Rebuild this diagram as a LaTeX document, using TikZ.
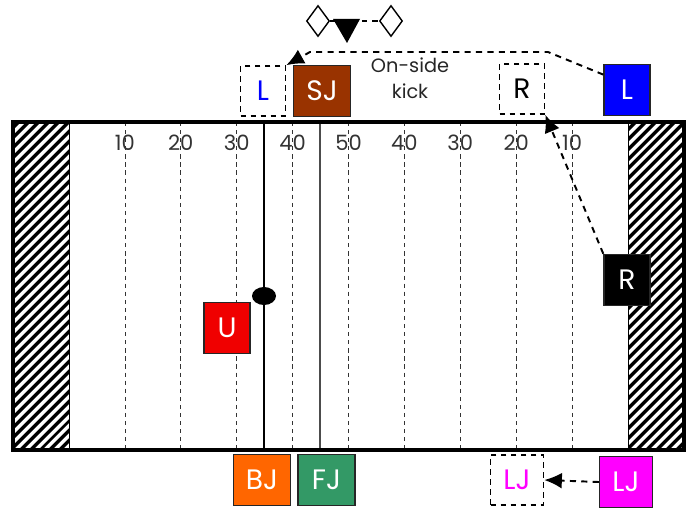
\documentclass[tikz,border=0pt]{standalone}
\usepackage{fontspec}
\setmainfont{Poppins}
\usepackage{tikz}
\usetikzlibrary{positioning}
\usetikzlibrary{shapes.geometric}
\usetikzlibrary{patterns.meta}
\usetikzlibrary{arrows.meta}
\definecolor{sjbrown}{HTML}{993300}
\definecolor{ured}{HTML}{F00000}
\definecolor{bjorange}{HTML}{FF6600}
\definecolor{fjgreen}{HTML}{339966}
\definecolor{ljpink}{HTML}{FF00FF}
\definecolor{lblue}{HTML}{0000FF}
\tikzset{
    official/.style={ % Filled box of an official
        draw=black!85,
        thick,
        text=white,
        inner sep=0pt,
        minimum width=0.92cm,
        minimum height=1.02cm,
        font=\fontsize{16}{16}\selectfont
    },
    wide/.style={minimum width=1.14cm},
    ghost/.style={ % Where the official stood before
        draw,
        line width=0.9pt,
        dash pattern=on 3.2pt off 2.5pt,
        inner sep=0pt,
        minimum width=0.9cm,
        minimum height=1.0cm,
        font=\fontsize{16}{16}\selectfont
    },
    endzone/.style={
        draw,
        pattern={Lines[angle=45,distance=4pt,line width=2pt]}
    },
    yardline/.style={draw=black!80, dash pattern=on 2.4pt off 2.2pt},
    yardnum/.style={text=black!80, inner sep=0pt, font=\fontsize{12}{12}\selectfont},
    scrimmage/.style={draw, line width=1.1pt},
    field/.style={draw, line width=2.8pt},
    ball/.style={ellipse, fill, inner sep=0pt, minimum width=0.48cm, minimum height=0.36cm},
    flag/.style={diamond, draw, thick, fill=white, inner sep=0pt, minimum width=0.46cm, minimum height=0.62cm},
    move/.style={ % Dashed path of an official
        draw,
        line width=1.1pt,
        dash pattern=on 3.5pt off 3pt,
        -{Latex[length=10pt,width=9pt]}
    }
}
\begin{document}
\begin{tikzpicture}[x=0.02cm, y=-0.02cm]
    \useasboundingbox (0,0) rectangle (689,510);

    % end zones
    \path[endzone] (13,122) rectangle (69,450);
    \path[endzone] (628,122) rectangle (684,450);

    % yard lines
    \foreach \n [count=\i] in {10,20,30,40,50,40,30,20,10} {
        \node[yardnum] (num\i) at (69+55.9*\i,143) {\n};
        \draw[yardline] (69+55.9*\i,122) -- (69+55.9*\i,450);
    }
    \draw[scrimmage] (264,122) -- (264,450);
    \draw[scrimmage, draw=black!70] (320,122) -- (320,450);
    \draw[field] (13,122) rectangle (684,450);
    \node[ball] (ball) at (264,296) {};

    % officials
    \node[ghost, text=lblue] (lold) at (263,91) {L};
    \node[official, wide, fill=sjbrown] (sj) at (322,91) {SJ};
    \node[ghost] (rold) at (522,89) {R};
    \node[official, fill=lblue] (l) at (627,90) {L};
    \node[official, fill=black] (r) at (627,280) {R};
    \node[official, fill=ured] (u) at (227,328) {U};
    \node[official, wide, fill=bjorange] (bj) at (262,480) {BJ};
    \node[official, wide, fill=fjgreen, right=0.12cm of bj] (fj) {FJ};
    \node[ghost, wide, minimum width=1.06cm, text=ljpink] (ljold) at (517,480) {LJ};
    \node[official, wide, minimum width=1.06cm, fill=ljpink] (lj) at (626,482) {LJ};

    \node[text=black!85, align=center, font=\fontsize{11}{15}\selectfont] (kick) at (410,78) {On-side\\kick};

    % flag signal
    \node[flag] (fl) at (318,21) {};
    \node[flag] (fr) at (391,21) {};
    \draw[thick, dash pattern=on 3pt off 3pt] (fl.east) -- (fr.west);
    \fill (333,19) -- (360,19) -- (347,43) -- cycle;

    % moves
    \coordinate (kickr) at (548,52);
    \coordinate (kickl) at (310,52);
    \draw[move] (l.147) -- (kickr) -- (kickl) -- (lold.north east);
    \draw[move] (r.north west) -- (rold.south east);
    \draw[move] (lj.west) -- (ljold.east);
\end{tikzpicture}
\end{document}
